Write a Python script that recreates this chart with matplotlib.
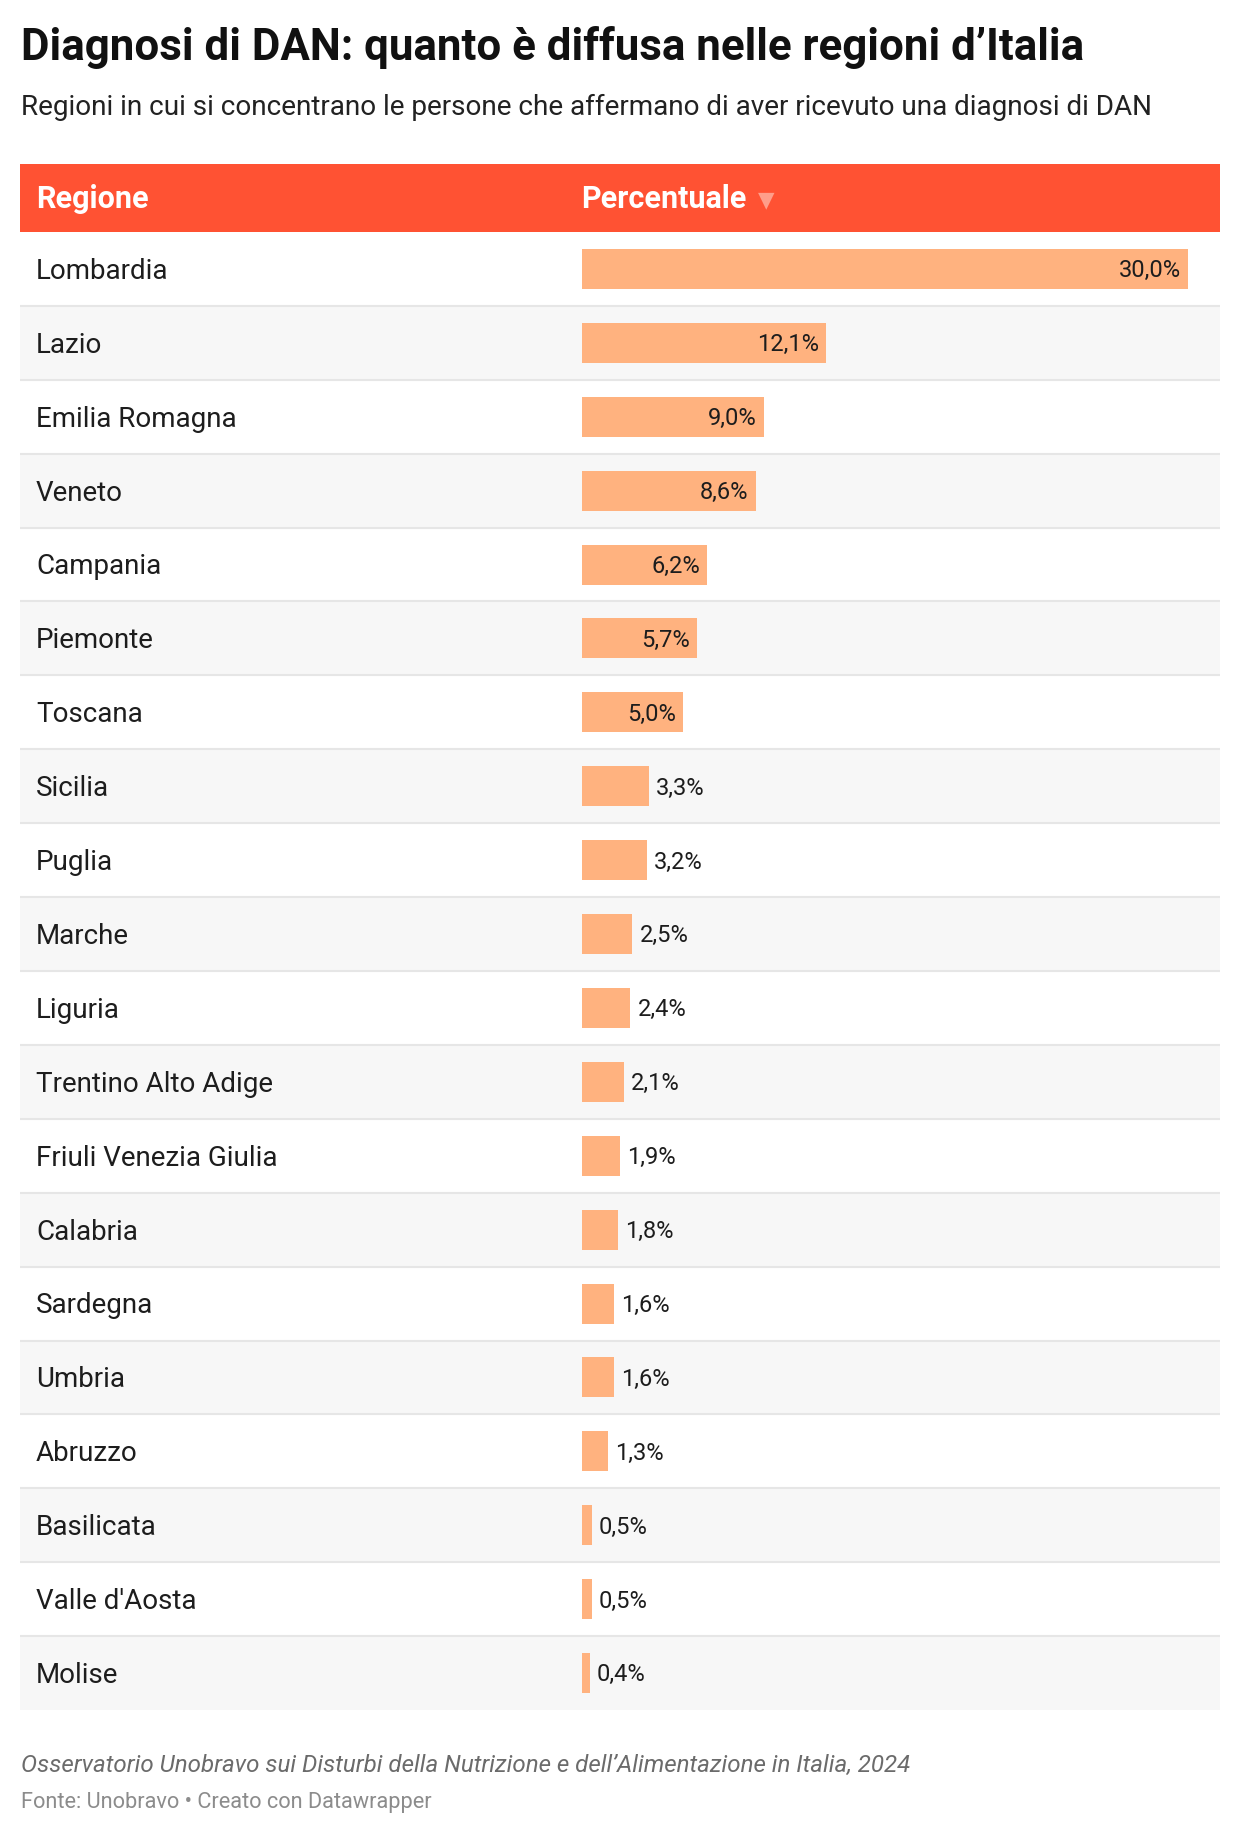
import matplotlib
matplotlib.use("Agg")
import matplotlib.pyplot as plt
from matplotlib.patches import Rectangle
import matplotlib.transforms as mtransforms

# ---- data ----
regions = ["Lombardia", "Lazio", "Emilia Romagna", "Veneto", "Campania", "Piemonte",
           "Toscana", "Sicilia", "Puglia", "Marche", "Liguria", "Trentino Alto Adige",
           "Friuli Venezia Giulia", "Calabria", "Sardegna", "Umbria", "Abruzzo",
           "Basilicata", "Valle d'Aosta", "Molise"]
values = [30.0, 12.1, 9.0, 8.6, 6.2, 5.7, 5.0, 3.3, 3.2, 2.5, 2.4, 2.1, 1.9, 1.8,
          1.6, 1.6, 1.3, 0.5, 0.5, 0.4]
col_headers = ["Regione", "Percentuale"]
title = "Diagnosi di DAN: quanto è diffusa nelle regioni d’Italia"
subtitle = "Regioni in cui si concentrano le persone che affermano di aver ricevuto una diagnosi di DAN"
note = "Osservatorio Unobravo sui Disturbi della Nutrizione e dell’Alimentazione in Italia, 2024"
source = "Fonte: Unobravo • Creato con Datawrapper"

W, H = 1240, 1834
DPI = 100
plt.rcParams['font.family'] = ['Roboto', 'DejaVu Sans']

fig = plt.figure(figsize=(W / DPI, H / DPI), dpi=DPI)
fig.patch.set_facecolor("white")

def fx(px):
    return px / W

def fy(py):
    return 1 - py / H

HEADER_COLOR = "#ff5233"
BAR_COLOR = "#ffb27f"
ALT_BG = "#f7f7f7"
SEP_COLOR = "#e6e6e6"
TEXT_COLOR = "#1d1d1d"

# title / subtitle
fig.text(fx(21), fy(60), title, fontsize=31.6, fontweight="bold", color="#111111",
         ha="left", va="baseline")
fig.text(fx(21), fy(115), subtitle, fontsize=20.1, color="#222222",
         ha="left", va="baseline")

# header band
fig.add_artist(Rectangle((fx(20), fy(232)), fx(1220) - fx(20), fy(164) - fy(232),
                         transform=fig.transFigure, facecolor=HEADER_COLOR,
                         edgecolor="none"))
head_fs = 22
fig.text(fx(36), fy(208), col_headers[0], fontsize=head_fs, fontweight="bold",
         color="white", ha="left", va="baseline")
fig.text(fx(581), fy(208), col_headers[1], fontsize=head_fs, fontweight="bold",
         color="white", ha="left", va="baseline")
fig.text(fx(758), fy(200), "▼", fontsize=15.5, color="#ff9e8a", ha="left",
         va="center", family="DejaVu Sans")

# table axes
left_px, right_px = 20, 1220
top_px, bot_px = 232, 1710
ax = fig.add_axes([fx(left_px), fy(bot_px), fx(right_px) - fx(left_px),
                   fy(top_px) - fy(bot_px)])
bar0_px = 582
px_per_pct = (1187.5 - 582) / 30.0
ax.set_xlim(-(bar0_px - left_px) / px_per_pct, (right_px - bar0_px) / px_per_pct)
n = len(regions)
ax.set_ylim(n - 0.5, -0.5)
ax.axis("off")

for i in range(n):
    if i % 2 == 1:
        ax.axhspan(i - 0.5, i + 0.5, color=ALT_BG, zorder=0, lw=0)
for i in range(1, n):
    ax.axhline(i - 0.5, color=SEP_COLOR, lw=1.5, zorder=1)

row_h_px = (bot_px - top_px) / n
bar_h = 40 / row_h_px
ax.barh(range(n), values, height=bar_h, left=0, color=BAR_COLOR, zorder=2)

trans_name = mtransforms.blended_transform_factory(fig.transFigure, ax.transData)
row_fs = 20.0
label_fs = 17
for i, (r, v) in enumerate(zip(regions, values)):
    ax.annotate(r, xy=(fx(36), i), xycoords=trans_name, xytext=(0, -0.3555 * row_fs),
                textcoords="offset points", fontsize=row_fs, color=TEXT_COLOR,
                ha="left", va="baseline", zorder=3)
    txt = f"{v:.1f}".replace(".", ",") + "%"
    if v >= 5:
        ax.annotate(txt, xy=(v, i), xytext=(-5, -0.3555 * label_fs),
                    textcoords="offset points", fontsize=label_fs, color=TEXT_COLOR,
                    ha="right", va="baseline", zorder=3)
    else:
        ax.annotate(txt, xy=(v, i), xytext=(5, -0.3555 * label_fs),
                    textcoords="offset points", fontsize=label_fs, color=TEXT_COLOR,
                    ha="left", va="baseline", zorder=3)

# footer
fig.text(fx(21), fy(1772), note, fontsize=17.4, style="italic", color="#6b6b6b",
         ha="left", va="baseline")
fig.text(fx(21), fy(1808), source, fontsize=15.7, color="#8c8c8c",
         ha="left", va="baseline")

fig.savefig("out.png", dpi=DPI, facecolor="white")
